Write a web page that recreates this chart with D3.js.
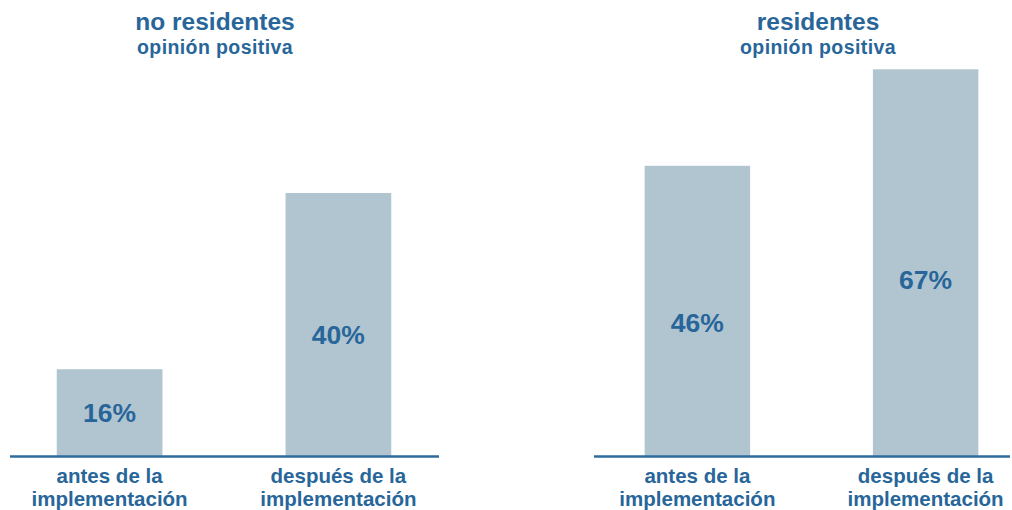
<!DOCTYPE html>
<html>
<head>
<meta charset="utf-8">
<script src="https://cdn.jsdelivr.net/npm/d3@7"></script>
<style>
  body { margin: 0; background: #fff; }
  text { font-family: "Liberation Sans", Arial, sans-serif; font-weight: bold; fill: #28669a; }
</style>
</head>
<body>
<svg id="chart"></svg>
<script>
const w = 1012;
const h = 510;

// data
const panelTitles = ['no residentes', 'residentes'];
const subtitle = 'opinión positiva';
const categories = ['antes de la implementación', 'después de la implementación'];
const categoryLines = [['antes de la', 'implementación'], ['después de la', 'implementación']];
const opinionNoRes = [16, 40];   // printed labels
const opinionRes   = [46, 67];
const barLenNoRes  = [15.1, 45.6]; // bar lengths as drawn (same axis as the 67% bar)
const barLenRes    = [50.3, 67];

let svg = d3.select('#chart').attr('width', w).attr('height', h);

let yScale = d3.scaleLinear().domain([0, 67]).range([456.5, 69.3]);

let panels = [
  {title: panelTitles[0], labels: opinionNoRes, lens: barLenNoRes, range: [11, 437], line: [10, 439], titleX: 215},
  {title: panelTitles[1], labels: opinionRes,   lens: barLenRes,   range: [599, 1024], line: [594, 1010], titleX: 818}
];

panels.forEach(function(p) {
  let xScale = d3.scaleBand()
    .domain(categories)
    .range(p.range)
    .paddingInner(0.538)
    .paddingOuter(0.2);

  let g = svg.append('g');

  g.append('text')
    .attr('x', p.titleX)
    .attr('y', 30)
    .attr('text-anchor', 'middle')
    .style('font-size', '24.5px')
    .text(p.title);

  g.append('text')
    .attr('x', p.titleX)
    .attr('y', 54)
    .attr('text-anchor', 'middle')
    .style('font-size', '19.5px')
    .style('letter-spacing', '0.4px')
    .text(subtitle);

  g.selectAll('rect.bar')
    .data(p.lens)
    .enter().append('rect')
    .attr('class', 'bar')
    .attr('x', (d, i) => xScale(categories[i]))
    .attr('width', xScale.bandwidth())
    .attr('y', d => yScale(d))
    .attr('height', d => yScale(0) - yScale(d))
    .attr('fill', '#b1c5d1');

  // value labels sit near the middle of the bar, a bit lower on tall bars
  g.selectAll('text.val')
    .data(p.lens)
    .enter().append('text')
    .attr('class', 'val')
    .attr('x', (d, i) => xScale(categories[i]) + xScale.bandwidth() / 2)
    .attr('y', function(d) {
      let hh = yScale(0) - yScale(d);
      return yScale(0) - hh / 2 + (hh - 88) * 0.055 + 9.6;
    })
    .attr('text-anchor', 'middle')
    .style('font-size', '26.5px')
    .text((d, i) => p.labels[i] + '%');

  g.append('line')
    .attr('x1', p.line[0])
    .attr('x2', p.line[1])
    .attr('y1', yScale(0))
    .attr('y2', yScale(0))
    .attr('stroke', '#2f6b9c')
    .attr('stroke-width', 2.4);

  categoryLines.forEach(function(lines, i) {
    let cx = xScale(categories[i]) + xScale.bandwidth() / 2;
    let t = g.append('text')
      .attr('x', cx)
      .attr('y', 483)
      .attr('text-anchor', 'middle')
      .style('font-size', '20.5px');
    lines.forEach(function(s, k) {
      t.append('tspan')
        .attr('x', cx)
        .attr('dy', k === 0 ? 0 : 22.5)
        .text(s);
    });
  });
});
</script>
</body>
</html>
